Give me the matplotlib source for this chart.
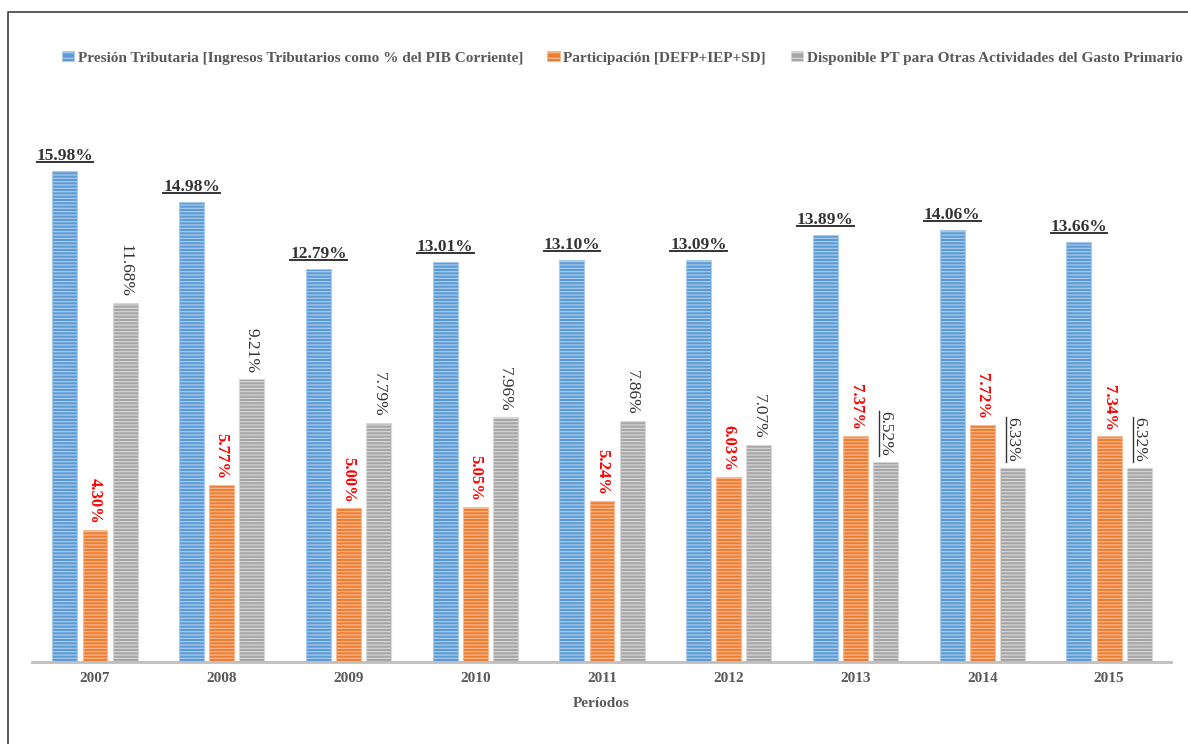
import matplotlib
matplotlib.use("Agg")
import matplotlib.pyplot as plt
import numpy as np
from matplotlib.lines import Line2D
from matplotlib.patches import Patch

years = ["2007", "2008", "2009", "2010", "2011", "2012", "2013", "2014", "2015"]
presion = [15.98, 14.98, 12.79, 13.01, 13.10, 13.09, 13.89, 14.06, 13.66]
participacion = [4.30, 5.77, 5.00, 5.05, 5.24, 6.03, 7.37, 7.72, 7.34]
disponible = [11.68, 9.21, 7.79, 7.96, 7.86, 7.07, 6.52, 6.33, 6.32]
underline_disponible = [False] * 6 + [True] * 3

legend_labels = [
    "Presión Tributaria [Ingresos Tributarios como % del PIB Corriente]",
    "Participación [DEFP+IEP+SD]",
    "Disponible PT para Otras Actividades del Gasto Primario",
]

plt.rcParams["font.family"] = ["Liberation Serif", "DejaVu Serif"]
plt.rcParams["hatch.linewidth"] = 0.9

W, H, DPI = 1188, 744, 100
fig = plt.figure(figsize=(W / DPI, H / DPI), dpi=DPI)
ax = fig.add_axes([32 / W, 1 - 662 / H, (1171 - 32) / W, (662 - 109) / H])

face = ["#5B9BD5", "#ED7D31", "#A5A5A5"]
stripe = ["#A9CBEB", "#F6B990", "#D6D6D6"]
txt_dark = "#333333"
txt_grey = "#595959"

x = np.arange(len(years))
width = 0.197
step = 0.237
series = [presion, participacion, disponible]
for k, vals in enumerate(series):
    ax.bar(x + (k - 1) * step, vals, width, color=face[k],
           edgecolor=stripe[k], linewidth=0.8, hatch="-----", zorder=2)

ax.set_xlim(-0.497, 8.489)
ax.set_ylim(0, 18)
ax.set_yticks([])
for s in ["top", "right", "left"]:
    ax.spines[s].set_visible(False)
ax.spines["bottom"].set_color("#BFBFBF")
ax.spines["bottom"].set_linewidth(2)
ax.spines["bottom"].set_zorder(3)
ax.set_xticks(x)
ax.set_xticklabels(years, fontsize=11, fontweight="bold", color=txt_grey)
ax.tick_params(axis="x", length=0, pad=7)
ax.set_xlabel("Períodos", fontsize=11, fontweight="bold", color=txt_grey, labelpad=9)

underlined = []
# Presión Tributaria: horizontal bold labels above bars
for i, v in enumerate(presion):
    t = ax.annotate(f"{v:.2f}%", (x[i] - step, v), xytext=(0, 7),
                    textcoords="offset pixels", ha="center", va="bottom",
                    fontsize=12.5, fontweight="bold", color=txt_dark)
    underlined.append((t, "h"))
# Participación: rotated red labels
for i, v in enumerate(participacion):
    ax.annotate(f"{v:.2f}%", (x[i], v), xytext=(0, 6),
                textcoords="offset pixels", ha="center", va="bottom",
                rotation=-90, fontsize=12, fontweight="bold", color="#FF0000")
# Disponible: rotated grey labels
for i, v in enumerate(disponible):
    t = ax.annotate(f"{v:.2f}%", (x[i] + step, v), xytext=(0, 6),
                    textcoords="offset pixels", ha="center", va="bottom",
                    rotation=-90, fontsize=12.5, color=txt_dark)
    if underline_disponible[i]:
        underlined.append((t, "v"))

handles = [Patch(facecolor=face[k], edgecolor=stripe[k], hatch="---", linewidth=0.5)
           for k in range(3)]
fig.legend(handles, legend_labels, loc="center", bbox_to_anchor=(622 / W, 1 - 58 / H),
           ncol=3, frameon=False, handlelength=0.8, handleheight=0.55,
           handletextpad=0.25, columnspacing=1.6,
           prop={"size": 11, "weight": "bold"}, labelcolor=txt_grey)

# outer frame (left and top edges)
fig.add_artist(Line2D([8 / W, 8 / W, 1.0], [0.0, 1 - 12 / H, 1 - 12 / H],
                      transform=fig.transFigure, color="#404040", linewidth=1.2))

# underline selected labels
fig.canvas.draw()
renderer = fig.canvas.get_renderer()
for t, orient in underlined:
    bb = t.get_window_extent(renderer)
    if orient == "h":
        y = bb.y0 + 2
        fig.add_artist(Line2D([bb.x0 / W, bb.x1 / W], [y / H, y / H],
                              transform=fig.transFigure, color=txt_dark, linewidth=1.4))
    else:
        xx = bb.x0 + 1.5
        fig.add_artist(Line2D([xx / W, xx / W], [bb.y0 / H, bb.y1 / H],
                              transform=fig.transFigure, color=txt_dark, linewidth=1.0))

fig.savefig("out.png", dpi=DPI)
